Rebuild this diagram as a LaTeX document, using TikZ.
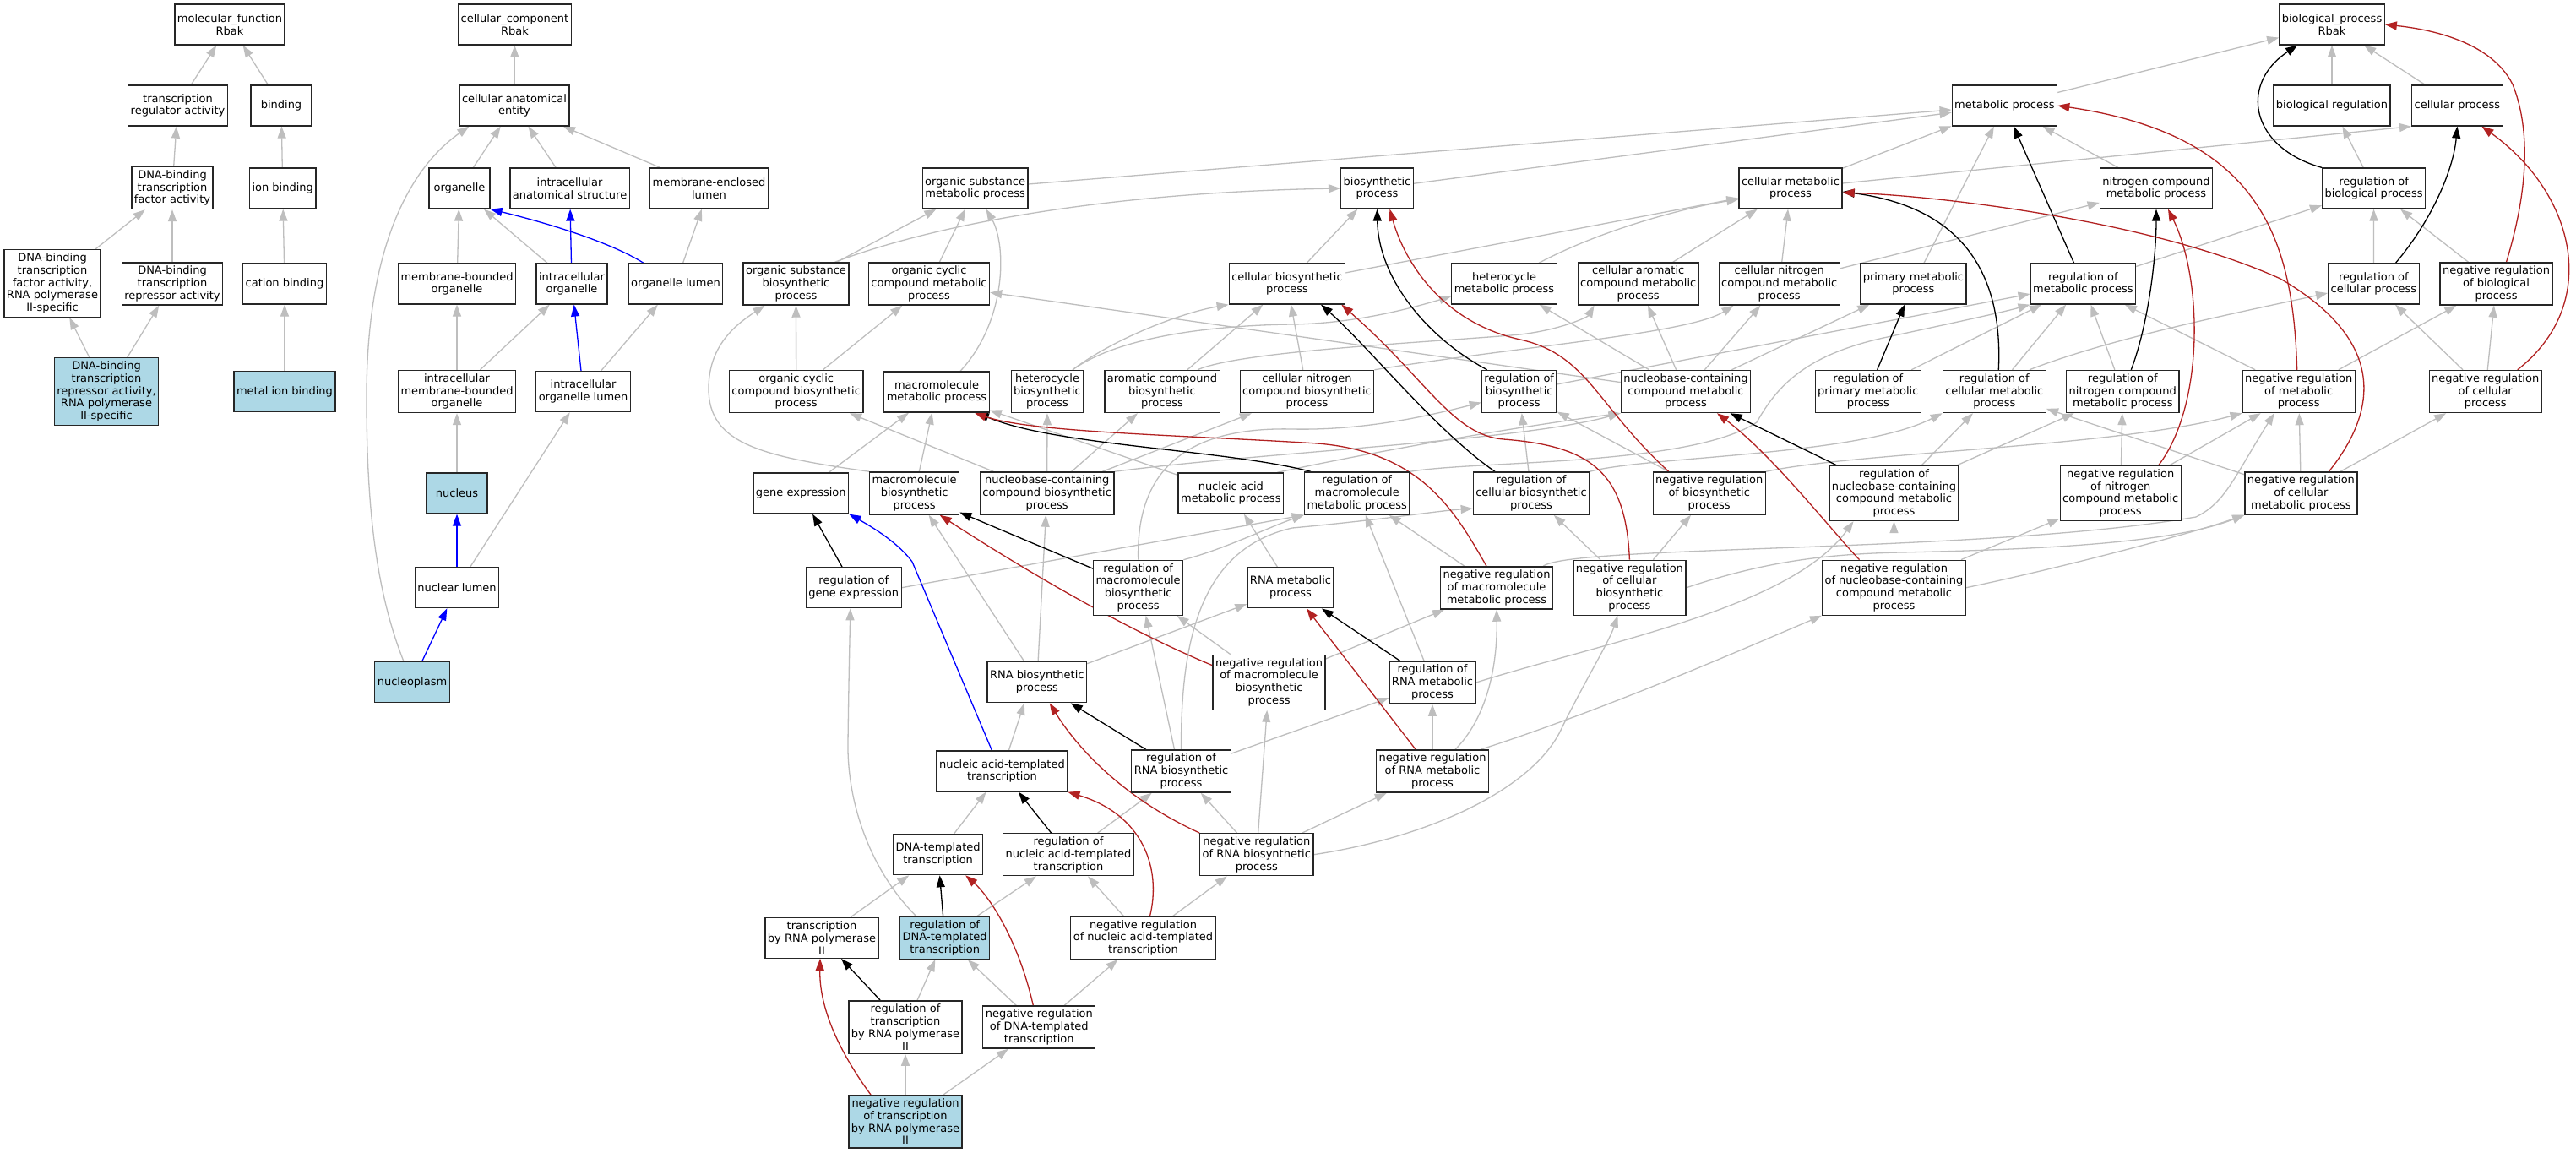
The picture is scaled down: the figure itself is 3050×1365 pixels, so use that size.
\documentclass[tikz,border=0pt]{standalone}
\usepackage{fontspec}
\setmainfont{DejaVu Sans}
\usetikzlibrary{arrows.meta,calc,backgrounds}
\definecolor{isagray}{RGB}{190,190,190}
\definecolor{negred}{RGB}{178,34,34}
\definecolor{partblue}{RGB}{0,0,255}
\definecolor{hitblue}{RGB}{173,216,230}
\newcommand{\termfont}{\fontsize{13}{14.8}\selectfont}

\begin{document}
\begin{tikzpicture}[x=1pt, y=-1pt,
    term/.style = {draw=black!85, line width=1.3pt, fill=white, align=center, font=\termfont,
                   minimum width=72pt, minimum height=48pt, inner xsep=3pt, inner ysep=4pt},
    hit/.style = {term, fill=hitblue},
    isa/.style = {color=isagray, draw, line width=1.3pt, -{Triangle[length=14pt, width=10pt]}},
    reg/.style = {isa, color=black},
    negreg/.style = {isa, color=negred},
    partof/.style = {isa, color=partblue}]
\useasboundingbox (0,0) rectangle (3050,1365);

% molecular function
\node[term] (mf) at (272,29) {molecular\_function\\Rbak};
\node[term] (tra) at (210.5,125) {transcription\\regulator activity};
\node[term] (bind) at (333,125) {binding};
\node[term] (dbtf) at (204,222.5) {DNA-binding\\transcription\\factor activity};
\node[term] (ionb) at (334.7,223) {ion binding};
\node[term] (dbtf2) at (62,335.5) {DNA-binding\\transcription\\factor activity,\\RNA polymerase\\II-specific};
\node[term] (dbtr) at (204,336) {DNA-binding\\transcription\\repressor activity};
\node[term] (catb) at (337,336) {cation binding};
\node[hit] (dbtr2) at (126,463.5) {DNA-binding\\transcription\\repressor activity,\\RNA polymerase\\II-specific};
\node[hit] (metb) at (337,463.5) {metal ion binding};

% cellular component
\node[term] (cc) at (609.5,29) {cellular\_component\\Rbak};
\node[term] (cae) at (609,125) {cellular anatomical\\entity};
\node[term] (org) at (544,223) {organelle};
\node[term] (ias) at (674.6,223) {intracellular\\anatomical structure};
\node[term] (mel) at (839.5,223) {membrane-enclosed\\lumen};
\node[term] (mbo) at (541,336) {membrane-bounded\\organelle};
\node[term] (io) at (677,336) {intracellular\\organelle};
\node[term] (ol) at (800,336) {organelle lumen};
\node[term] (imbo) at (541,463.5) {intracellular\\membrane-bounded\\organelle};
\node[term] (iol) at (690.6,463.5) {intracellular\\organelle lumen};
\node[hit] (nuc) at (541,584) {nucleus};
\node[term] (nl) at (541,695.7) {nuclear lumen};
\node[hit] (npl) at (488,807.7) {nucleoplasm};

% biological process
\node[term] (bp) at (2761,29) {biological\_process\\Rbak};
\node[term] (mp) at (2373.4,125) {metabolic process};
\node[term] (breg) at (2761,125) {biological regulation};
\node[term] (cp) at (2909.4,125) {cellular process};
\node[term] (osmp) at (1154.6,223) {organic substance\\metabolic process};
\node[term] (bsp) at (1630.5,223) {biosynthetic\\process};
\node[term] (cmp) at (2120,223) {cellular metabolic\\process};
\node[term] (ncmp) at (2553,223) {nitrogen compound\\metabolic process};
\node[term] (rbp) at (2810.6,223) {regulation of\\biological process};
\node[term] (osbp) at (942.5,336) {organic substance\\biosynthetic\\process};
\node[term] (occmp) at (1100,336) {organic cyclic\\compound metabolic\\process};
\node[term] (cbp) at (1524,336) {cellular biosynthetic\\process};
\node[term] (hmp) at (1781,336) {heterocycle\\metabolic process};
\node[term] (cacmp) at (1939.7,336) {cellular aromatic\\compound metabolic\\process};
\node[term] (cncmp) at (2106.7,336) {cellular nitrogen\\compound metabolic\\process};
\node[term] (pmp) at (2265.4,336) {primary metabolic\\process};
\node[term] (rmp) at (2466.4,336) {regulation of\\metabolic process};
\node[term] (rcp) at (2810.4,336) {regulation of\\cellular process};
\node[term] (nrbiop) at (2955.5,336) {negative regulation\\of biological\\process};
\node[term] (occbp) at (942.7,463.5) {organic cyclic\\compound biosynthetic\\process};
\node[term] (mmp) at (1109,464) {macromolecule\\metabolic process};
\node[term] (hbp) at (1240,463.5) {heterocycle\\biosynthetic\\process};
\node[term] (acbp) at (1376,463.5) {aromatic compound\\biosynthetic\\process};
\node[term] (cncbp) at (1547.5,463.5) {cellular nitrogen\\compound biosynthetic\\process};
\node[term] (rbsp) at (1798.7,463.5) {regulation of\\biosynthetic\\process};
\node[term] (nccmp) at (1996,463.5) {nucleobase-containing\\compound metabolic\\process};
\node[term] (rpmp) at (2211.8,463.5) {regulation of\\primary metabolic\\process};
\node[term] (rcmp) at (2361.3,463.5) {regulation of\\cellular metabolic\\process};
\node[term] (rncmp) at (2513.3,463.5) {regulation of\\nitrogen compound\\metabolic process};
\node[term] (nrmp) at (2721.7,463.5) {negative regulation\\of metabolic\\process};
\node[term] (nrcp) at (2942.7,463.5) {negative regulation\\of cellular\\process};
\node[term] (gex) at (948.3,584) {gene expression};
\node[term] (mbp) at (1082.7,584) {macromolecule\\biosynthetic\\process};
\node[term] (nccbp) at (1239.7,584) {nucleobase-containing\\compound biosynthetic\\process};
\node[term] (namp) at (1457.3,584) {nucleic acid\\metabolic process};
\node[term] (rmmp) at (1606.7,584) {regulation of\\macromolecule\\metabolic process};
\node[term] (rcbp) at (1813,584) {regulation of\\cellular biosynthetic\\process};
\node[term] (nrbsp) at (2023.7,584) {negative regulation\\of biosynthetic\\process};
\node[term] (rnccmp) at (2242.5,584) {regulation of\\nucleobase-containing\\compound metabolic\\process};
\node[term] (nrncmp) at (2510.7,584) {negative regulation\\of nitrogen\\compound metabolic\\process};
\node[term] (nrcmp) at (2724.4,584) {negative regulation\\of cellular\\metabolic process};
\node[term] (rgex) at (1010.8,695.7) {regulation of\\gene expression};
\node[term] (rmbp) at (1347.7,695.8) {regulation of\\macromolecule\\biosynthetic\\process};
\node[term] (rnamp) at (1528,695.8) {RNA metabolic\\process};
\node[term] (nrmmp) at (1772,696) {negative regulation\\of macromolecule\\metabolic process};
\node[term] (nrcbp) at (1929.4,695.8) {negative regulation\\of cellular\\biosynthetic\\process};
\node[term] (nrnccmp) at (2242.5,695.7) {negative regulation\\of nucleobase-containing\\compound metabolic\\process};
\node[term] (rnabp) at (1227.8,807.8) {RNA biosynthetic\\process};
\node[term] (nrmbp) at (1502.6,807.7) {negative regulation\\of macromolecule\\biosynthetic\\process};
\node[term] (rrnamp) at (1696,808) {regulation of\\RNA metabolic\\process};
\node[term] (natt) at (1186.4,913) {nucleic acid-templated\\transcription};
\node[term] (rrnabp) at (1398.5,913) {regulation of\\RNA biosynthetic\\process};
\node[term] (nrrnamp) at (1696,913) {negative regulation\\of RNA metabolic\\process};
\node[term] (dtt) at (1110.6,1011.7) {DNA-templated\\transcription};
\node[term] (rnatt) at (1265,1011.7) {regulation of\\nucleic acid-templated\\transcription};
\node[term] (nrrnabp) at (1487.8,1011.7) {negative regulation\\of RNA biosynthetic\\process};
\node[term] (trp) at (973,1110.3) {transcription\\by RNA polymerase\\II};
\node[hit] (rdtt) at (1118.7,1110.3) {regulation of\\DNA-templated\\transcription};
\node[term] (nrnatt) at (1353.5,1110.3) {negative regulation\\of nucleic acid-templated\\transcription};
\node[term] (rtrp) at (1072,1216) {regulation of\\transcription\\by RNA polymerase\\II};
\node[term] (nrdtt) at (1230.3,1216) {negative regulation\\of DNA-templated\\transcription};
\node[hit] (nrtrp) at (1072,1327.8) {negative regulation\\of transcription\\by RNA polymerase\\II};

\begin{scope}[on background layer]
\fill[white] (0,0) rectangle (3050,1365);

% molecular function edges
\path[isa]
  (tra) edge (mf)
  (bind) edge (mf)
  (dbtf) edge (tra)
  (ionb) edge (bind)
  (dbtf2) edge (dbtf)
  (dbtr) edge (dbtf)
  (catb) edge (ionb)
  (dbtr2) edge (dbtf2)
  (dbtr2) edge (dbtr)
  (metb) edge (catb);

% cellular component edges
\path[isa]
  (cae) edge (cc)
  (org) edge (cae)
  (ias) edge (cae)
  (mel) edge (cae)
  (mbo) edge (org)
  (io) edge (org)
  (ol) edge (mel)
  (imbo) edge (mbo)
  (imbo) edge (io)
  (iol) edge (ol)
  (nuc) edge (imbo)
  (nl) edge (iol);
\draw[isa] ($(npl.north)+(-10,0)$) .. controls (445,700) and (434,600) .. (434,470)
  .. controls (434,260) and (505,185) .. ($(cae.south west)+(12,0)$);
\path[partof]
  (io) edge (ias)
  (iol) edge (io)
  (nl) edge (nuc)
  (npl) edge (nl);
\draw[partof] ($(ol.north)+(-38,0)$) .. controls (720,285) and (640,262) .. (org.south east);

% biological process, is_a
\path[isa]
  (mp) edge (bp) (breg) edge (bp) (cp) edge (bp)
  (osmp) edge (mp) (bsp) edge (mp) (cmp) edge (mp) (pmp) edge (mp) (ncmp) edge (mp)
  (rbp) edge (breg)
  (osbp) edge (osmp) (occmp) edge (osmp)
  (cbp) edge (bsp)
  (occbp) edge (osbp) (occbp) edge (occmp) (nccmp) edge (occmp)
  (cbp) edge (cmp) (cacmp) edge (cmp) (cncmp) edge (cmp)
  (cncmp) edge (ncmp)
  (rmp) edge (rbp) (rcp) edge (rbp) (nrbiop) edge (rbp)
  (nccmp) edge (pmp) (nccmp) edge (hmp) (nccmp) edge (cacmp) (nccmp) edge (cncmp)
  (acbp) edge (cbp) (cncbp) edge (cbp)
  (nccbp) edge (occbp)
  (gex) edge (mmp) (mbp) edge (mmp) (namp) edge (mmp)
  (nccbp) edge (hbp) (nccbp) edge (acbp) (nccbp) edge (cncbp)
  (rcbp) edge (rbsp) (nrbsp) edge (rbsp)
  (rbsp) edge (rmp) (rpmp) edge (rmp) (rcmp) edge (rmp) (rncmp) edge (rmp) (nrmp) edge (rmp)
  (nrcp) edge (rcp)
  (nrmp) edge (nrbiop) (nrcp) edge (nrbiop)
  (rnccmp) edge (rcmp) (nrcmp) edge (rcmp)
  (rnccmp) edge (rncmp) (nrncmp) edge (rncmp)
  (nrncmp) edge (nrmp) (nrcmp) edge (nrmp)
  (nrcmp) edge (nrcp)
  (rnabp) edge (nccbp) (rnabp) edge (rnamp)
  (rnamp) edge (namp)
  (nrmmp) edge (rmmp)
  (nrcbp) edge (rcbp) (nrcbp) edge (nrbsp)
  (nrnccmp) edge (rnccmp) (nrnccmp) edge (nrncmp)
  (nrmbp) edge (rmbp) (nrmbp) edge (nrmmp)
  (rrnabp) edge (rrnamp) (nrrnamp) edge (rrnamp)
  (dtt) edge (natt)
  (rnatt) edge (rrnabp) (nrrnabp) edge (rrnabp)
  (nrrnabp) edge (nrrnamp) (nrrnabp) edge (nrmbp)
  (trp) edge (dtt)
  (rdtt) edge (rnatt) (nrnatt) edge (rnatt)
  (nrnatt) edge (nrrnabp)
  (rtrp) edge (rdtt) (nrdtt) edge (rdtt)
  (nrdtt) edge (nrnatt)
  (nrtrp) edge (rtrp) (nrtrp) edge (nrdtt);
\draw[isa] ($(cmp.east)+(0,-6)$) -- (cp.south west);
\draw[isa] (rgex.east) -- (rmmp.south west);
\draw[isa] ($(rrnamp.north)+(-10,0)$) -- ($(rmmp.south)+(10,0)$);
\draw[isa] ($(rrnabp.north)+(-8,0)$) -- ($(rmbp.south)+(9,0)$);
\draw[isa] ($(natt.north)+(8,0)$) -- ($(rnabp.south)+(-15,0)$);
\draw[isa] ($(rnabp.north)+(-15,0)$) -- ($(mbp.south)+(17,0)$);
\draw[isa] ($(mmp.north)+(28,0)$) .. controls (1192,380) and (1192,290) .. ($(osmp.south)+(13,0)$);
\draw[isa] ($(osbp.north)+(46,0)$) .. controls (1100,268) and (1300,228) .. (bsp.west);
\draw[isa] (mbp.north west) .. controls (900,540) and (839,525) .. (839,460)
  .. controls (839,410) and (870,385) .. ($(osbp.south)+(-37,0)$);
\draw[isa] ($(hbp.north)+(30,0)$) .. controls (1320,400) and (1400,370) .. (cbp.south west);
\draw[isa] ($(hbp.north)+(30,0)$) .. controls (1330,395) and (1450,385) .. (1530,384)
  .. controls (1610,383) and (1680,362) .. ($(hmp.west)+(0,15)$);
\draw[isa] ($(acbp.north)+(42,0)$) .. controls (1470,415) and (1700,405) .. (1800,396)
  .. controls (1850,390) and (1880,375) .. ($(cacmp.south west)+(20,0)$);
\draw[isa] (cncbp.north east) .. controls (1800,410) and (2000,395) .. ($(cncmp.south west)+(18,0)$);
\draw[isa] ($(hmp.north)+(41,0)$) .. controls (1900,270) and (2000,245) .. ($(cmp.west)+(0,13)$);
\draw[isa] (nccbp.north east) .. controls (1500,535) and (1800,522) .. (nccmp.south west);
\draw[isa] ($(namp.north east)+(-8,0)$) .. controls (1650,530) and (1800,505) .. (nccmp.south west);
\draw[isa] (rmbp.north) .. controls (1345,560) and (1400,505) .. (1530,508)
  .. controls (1620,510) and (1700,490) .. ($(rbsp.west)+(0,13)$);
\draw[isa] (rmbp.north east) .. controls (1450,650) and (1500,625) .. (rmmp.south west);
\draw[isa] (rmmp.north east) .. controls (1750,545) and (2000,552) .. (2080,500)
  .. controls (2105,455) and (2140,420) .. (2230,400)
  .. controls (2300,385) and (2370,370) .. (rmp.south west);
\draw[isa] (rcbp.north east) .. controls (1950,540) and (2200,540) .. (rcmp.south west);
\draw[isa] ($(rcmp.north east)+(-20,0)$) .. controls (2500,400) and (2650,370) .. ($(rcp.west)+(0,11)$);
\draw[isa] (nrbsp.north east) .. controls (2200,535) and (2500,530) .. (nrmp.south west);
\draw[isa] ($(nrmmp.north east)+(-12,0)$) .. controls (1860,645) and (2350,655) .. (2600,612)
  .. controls (2635,595) and (2645,565) .. ($(nrmp.south)+(-29,0)$);
\draw[isa] (nrcbp.east) .. controls (2080,668) and (2150,656) .. (2250,654)
  .. controls (2450,650) and (2580,640) .. (nrcmp.south west);
\draw[isa] (nrnccmp.east) .. controls (2450,670) and (2600,630) .. (nrcmp.south west);
\draw[isa] (rrnamp.east) .. controls (1900,760) and (2120,720) .. ($(rnccmp.south)+(-48,0)$);
\draw[isa] ($(nrrnamp.north east)+(-10,0)$) .. controls (1900,840) and (2060,770) .. (nrnccmp.south west);
\draw[isa] (nrrnabp.east) .. controls (1700,990) and (1820,930) .. (1850,860)
  .. controls (1880,800) and (1905,760) .. ($(nrcbp.south)+(-14,0)$);
\draw[isa] ($(nrrnamp.north)+(27,0)$) .. controls (1760,850) and (1773,790) .. (nrmmp.south);
\draw[isa] (rrnabp.north) .. controls (1398,760) and (1420,650) .. (1530,625)
  .. controls (1640,615) and (1700,605) .. ($(rcbp.west)+(0,18)$);
\draw[isa] ($(rdtt.north)+(-34,0)$) .. controls (1030,1030) and (1003,950) .. (1004,880)
  .. controls (1005,800) and (1006,760) .. ($(rgex.south)+(-4,0)$);

% regulates
\path[reg]
  (rmp) edge (mp)
  (rnccmp) edge (nccmp)
  (rpmp) edge (pmp)
  (rgex) edge (gex)
  (rrnamp) edge (rnamp)
  (rrnabp) edge (rnabp)
  (rnatt) edge (natt)
  (rdtt) edge (dtt)
  (rtrp) edge (trp)
  (rmbp) edge (mbp);
\draw[reg] (rbp.north west) .. controls (2665,175) and (2650,100) .. ($(bp.south west)+(22,0)$);
\draw[reg] ($(rcp.north)+(26,0)$) .. controls (2880,260) and (2905,200) .. (cp.south);
\draw[reg] ($(rcmp.north)+(5,0)$) .. controls (2372,320) and (2320,245) .. ($(cmp.east)+(0,4)$);
\draw[reg] ($(rncmp.north)+(10,0)$) .. controls (2545,380) and (2553,300) .. (ncmp.south);
\draw[reg] ($(rbsp.north)+(-38,0)$) .. controls (1690,400) and (1632,330) .. (bsp.south);
\draw[reg] ($(rcbp.north)+(-43,0)$) .. controls (1700,510) and (1620,410) .. ($(cbp.south)+(40,0)$);
\draw[reg] ($(rmmp.north west)+(8,0)$) .. controls (1450,532) and (1250,528) .. ($(mmp.south east)+(-15,0)$);

% negatively regulates
\path[negreg] (nrrnamp) edge (rnamp);
\draw[negreg] ($(nrbiop.north)+(12,0)$) .. controls (2995,220) and (2995,150) .. (2975,100)
  .. controls (2950,50) and (2880,35) .. (bp.east);
\draw[negreg] ($(nrmp.north)+(-2,0)$) .. controls (2715,280) and (2675,160) .. (mp.east);
\draw[negreg] ($(nrcp.north)+(38,0)$) .. controls (3080,360) and (3050,230) .. ($(cp.south)+(29,0)$);
\draw[negreg] ($(nrcmp.north)+(33,0)$) .. controls (2820,480) and (2820,400) .. (2700,330)
  .. controls (2550,262) and (2300,232) .. ($(cmp.east)+(0,5)$);
\draw[negreg] ($(nrncmp.north)+(45,0)$) .. controls (2610,480) and (2608,330) .. ($(ncmp.south)+(14,0)$);
\draw[negreg] ($(nrbsp.north)+(-48,0)$) .. controls (1890,480) and (1880,420) .. (1800,402)
  .. controls (1700,380) and (1660,300) .. ($(bsp.south)+(15,0)$);
\draw[negreg] (nrcbp.north) .. controls (1925,560) and (1885,528) .. (1780,520)
  .. controls (1720,515) and (1690,450) .. ($(cbp.south east)+(-5,0)$);
\draw[negreg] ($(nrnccmp.north)+(-41,0)$) .. controls (2170,630) and (2100,540) .. ($(nccmp.south)+(37,0)$);
\draw[negreg] ($(nrmmp.north)+(-12,0)$) .. controls (1720,600) and (1680,535) .. (1560,525)
  .. controls (1400,515) and (1220,512) .. ($(mmp.south east)+(-18,0)$);
\draw[negreg] ($(nrmbp.west)+(0,-20)$) .. controls (1320,740) and (1190,660) .. ($(mbp.south)+(30,0)$);
\draw[negreg] (nrrnabp.north west) .. controls (1330,945) and (1275,885) .. ($(rnabp.south)+(15,0)$);
\draw[negreg] ($(nrnatt.north)+(8,0)$) .. controls (1375,1030) and (1355,965) .. (natt.south east);
\draw[negreg] ($(nrdtt.north)+(-7,0)$) .. controls (1205,1110) and (1170,1060) .. ($(dtt.south east)+(-21,0)$);
\draw[negreg] ($(nrtrp.north)+(-41,0)$) .. controls (990,1240) and (970,1190) .. ($(trp.south)+(-2,0)$);

% part_of
\draw[partof] ($(natt.north)+(-12,0)$) -- (1080,665) .. controls (1065,645) and (1040,628) .. (gex.south east);
\end{scope}
\end{tikzpicture}
\end{document}
